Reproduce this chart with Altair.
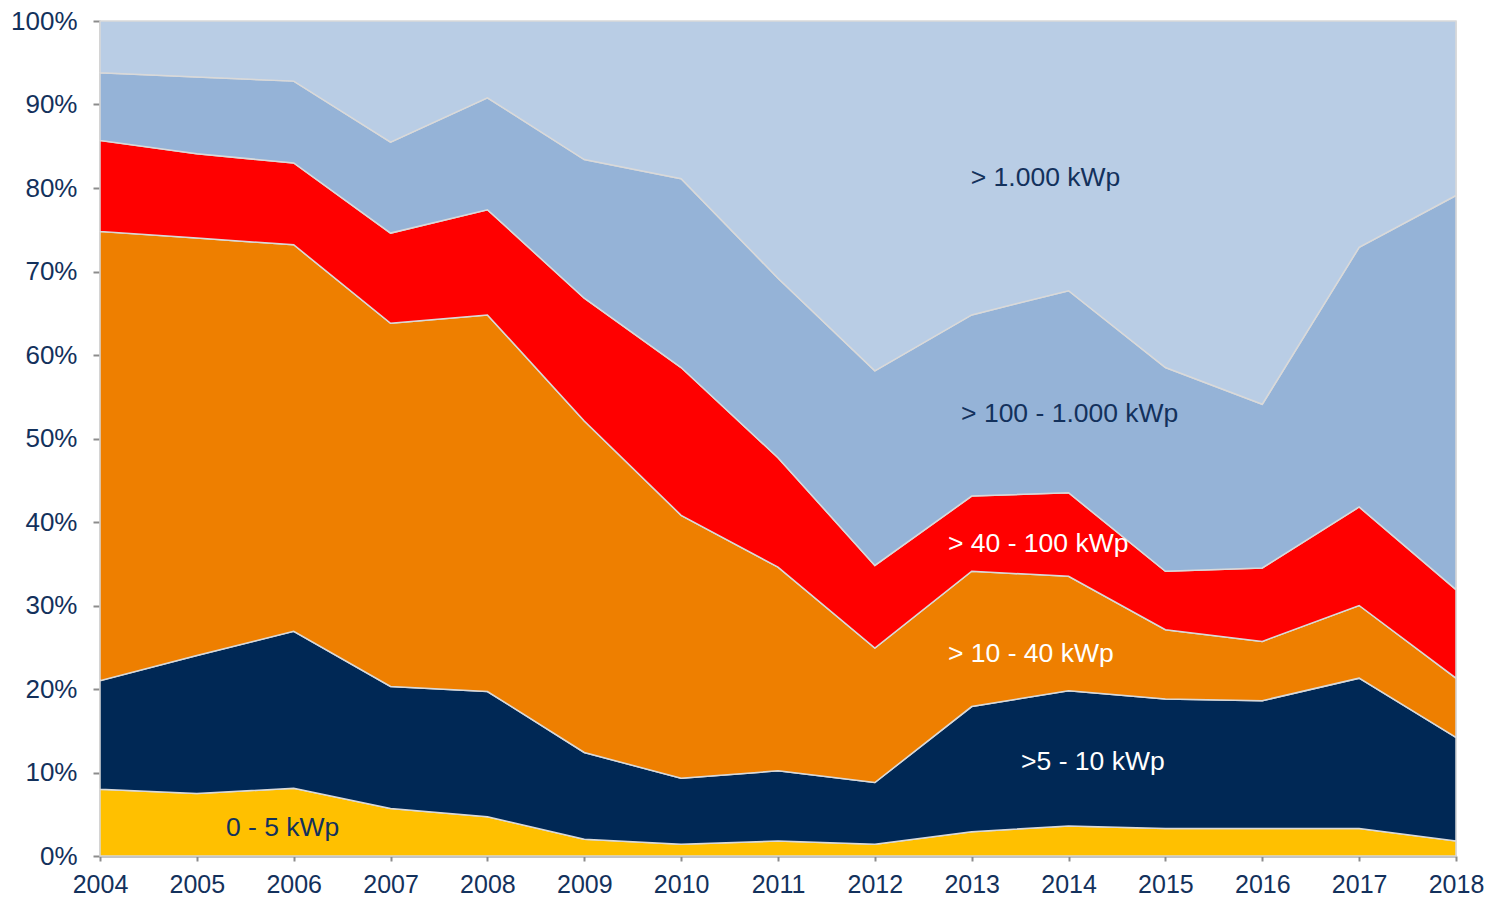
import altair as alt
import pandas as pd

years = list(range(2004, 2019))
series = ["0 - 5 kWp", ">5 - 10 kWp", "> 10 - 40 kWp", "> 40 - 100 kWp",
          "> 100 - 1.000 kWp", "> 1.000 kWp"]
colors = ["#FFC000", "#002855", "#EE7F00", "#FF0000", "#95B3D7", "#B9CDE5"]

s_0_5 = [8.0, 7.5, 8.1, 5.7, 4.7, 2.0, 1.4, 1.8, 1.4, 2.9, 3.6, 3.3, 3.3, 3.3, 1.8]
s_5_10 = [13.0, 16.5, 18.8, 14.6, 15.0, 10.4, 7.9, 8.4, 7.4, 15.0, 16.2, 15.5, 15.3, 18.0, 12.4]
s_10_40 = [53.8, 50.0, 46.3, 43.5, 45.1, 39.7, 31.5, 24.4, 16.1, 16.2, 13.7, 8.3, 7.1, 8.7, 7.1]
s_40_100 = [10.9, 10.1, 9.8, 10.8, 12.6, 14.7, 17.7, 13.1, 9.9, 9.0, 10.0, 7.0, 8.8, 11.8, 10.6]
s_100_1000 = [8.1, 9.2, 9.8, 10.9, 13.4, 16.6, 22.6, 21.5, 23.3, 21.7, 24.2, 24.4, 19.6, 31.1, 47.2]
s_1000 = [6.2, 6.7, 7.2, 14.5, 9.2, 16.6, 18.9, 30.8, 41.9, 35.2, 32.3, 41.5, 45.9, 27.1, 20.9]

label_text = ["0 - 5 kWp", ">5 - 10 kWp", "> 10 - 40 kWp", "> 40 - 100 kWp",
              "> 100 - 1.000 kWp", "> 1.000 kWp"]
label_year = [2005.30, 2013.51, 2012.755, 2012.755, 2012.89, 2012.99]
label_pct = [3.35, 11.2, 24.25, 37.4, 52.9, 81.2]
label_color = ["#13315C", "#FFFFFF", "#FFFFFF", "#FFFFFF", "#13315C", "#13315C"]

all_series = [s_0_5, s_5_10, s_10_40, s_40_100, s_100_1000, s_1000]
rows = []
for i, (name, vals) in enumerate(zip(series, all_series)):
    for y, v in zip(years, vals):
        rows.append({"year": y, "series": name, "idx": i, "value": v})
df = pd.DataFrame(rows)

labels = pd.DataFrame({"text": label_text, "year": label_year,
                       "pct": label_pct, "color": label_color})

FONT = "Liberation Sans"
TEXT = "#13315C"

x_scale = alt.Scale(domain=[2004, 2018], nice=False, zero=False)
y_scale = alt.Scale(domain=[0, 100], nice=False)

areas = alt.Chart(df).mark_area(
    stroke="#D9D9D9", strokeWidth=1.5, interpolate="linear", opacity=1
).encode(
    x=alt.X("year:Q", scale=x_scale,
            axis=alt.Axis(values=years, format="d", title=None, grid=False,
                          labelFontSize=25, labelFont=FONT, labelColor=TEXT,
                          labelPadding=11, tickSize=5, tickColor="#8C8C8C",
                          tickWidth=2, domainColor="#8C8C8C", domainWidth=2,
                          labelFlush=False, labelOverlap=False)),
    y=alt.Y("value:Q", stack="zero", scale=y_scale,
            axis=alt.Axis(values=list(range(0, 101, 10)), title=None, grid=False,
                          labelExpr="datum.value + '%'",
                          labelFontSize=26, labelFont=FONT, labelColor=TEXT,
                          labelPadding=16, tickSize=7, tickColor="#8C8C8C",
                          tickWidth=2, domainColor="#8C8C8C", domainWidth=2)),
    color=alt.Color("series:N", scale=alt.Scale(domain=series, range=colors),
                    legend=None),
    order=alt.Order("idx:Q", sort="ascending"),
)

texts = alt.Chart(labels).mark_text(
    align="left", baseline="middle", fontSize=26.5, font=FONT
).encode(
    x=alt.X("year:Q", scale=x_scale),
    y=alt.Y("pct:Q", scale=y_scale),
    text="text:N",
    color=alt.Color("color:N", scale=None),
)

chart = alt.layer(areas, texts).properties(
    width=1356, height=835,
    padding={"left": 92, "top": 13, "right": 28, "bottom": 43},
    autosize=alt.AutoSizeParams(type="none"),
).configure_view(
    stroke="#D9D9D9", strokeWidth=2
).configure(background="white")

chart.save("out.html", embed_options={"renderer": "svg", "actions": False})
